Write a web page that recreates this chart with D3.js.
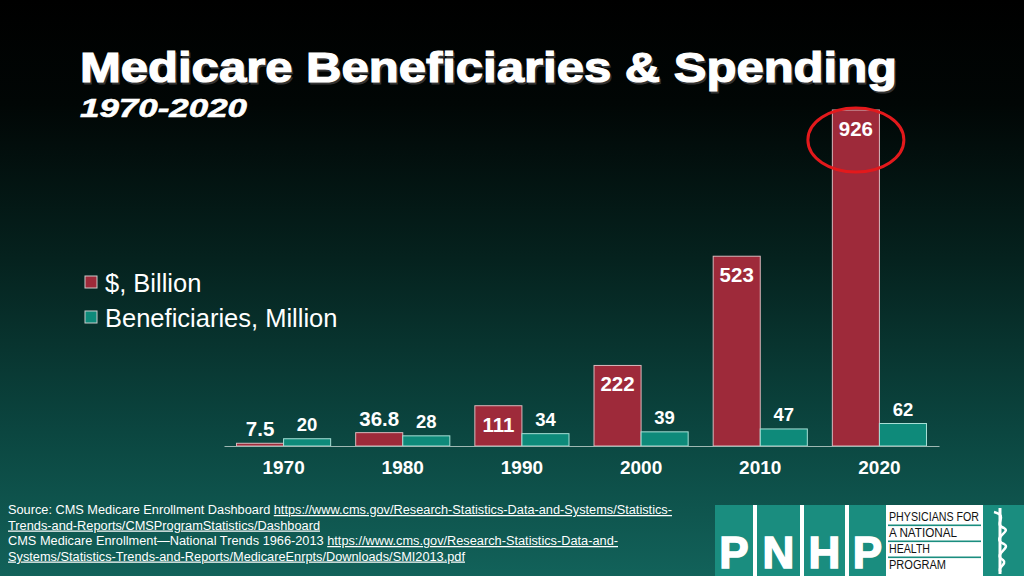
<!DOCTYPE html>
<html><head><meta charset="utf-8">
<script src="https://cdn.jsdelivr.net/npm/d3@7"></script>
<style>html,body{margin:0;padding:0;background:#000;}svg{display:block;}</style>
</head><body>
<script>
const years = ["1970","1980","1990","2000","2010","2020"];
const spending = [7.5, 36.8, 111, 222, 523, 926];
const spendingLabels = ["7.5","36.8","111","222","523","926"];
const beneficiaries = [20, 28, 34, 39, 47, 62];
const seriesNames = ["$, Billion", "Beneficiaries, Million"];

const W = 1024, H = 576;
const svg = d3.select("body").append("svg").attr("width", W).attr("height", H);
const defs = svg.append("defs");
const g = defs.append("linearGradient").attr("id","bg").attr("x1",0).attr("y1",0).attr("x2",0).attr("y2",1);
[[0,"#000000"],[0.18,"#010605"],[0.45,"#05221e"],[0.75,"#0b4640"],[1,"#12625a"]].forEach(([o,c])=>g.append("stop").attr("offset",o).attr("stop-color",c));
svg.append("rect").attr("width",W).attr("height",H).attr("fill","url(#bg)");

const red = "#9e2a3a", teal = "#0e8a7a";

// Title
const title = "Medicare Beneficiaries & Spending";
svg.append("text").attr("x",81.5).attr("y",83.5).text(title)
  .attr("font-family","Liberation Sans, Arial, sans-serif").attr("font-weight",900).attr("font-size",42)
  .attr("textLength",817).attr("lengthAdjust","spacingAndGlyphs").attr("fill","#333").attr("stroke","#333").attr("stroke-width",1.2);
svg.append("text").attr("x",80).attr("y",82).text(title)
  .attr("font-family","Liberation Sans, Arial, sans-serif").attr("font-weight",900).attr("font-size",42)
  .attr("textLength",817).attr("lengthAdjust","spacingAndGlyphs").attr("fill","#fff").attr("stroke","#fff").attr("stroke-width",1.2);
svg.append("text").attr("x",80).attr("y",117).text("1970-2020")
  .attr("font-family","Liberation Sans, Arial, sans-serif").attr("font-weight","bold").attr("font-style","italic").attr("font-size",26)
  .attr("textLength",167).attr("lengthAdjust","spacingAndGlyphs").attr("fill","#fff").attr("stroke","#fff").attr("stroke-width",0.6);

// Scales
const baseY = 446;
const x = d3.scaleBand().domain(years).range([224, 939]).paddingInner(0.21).paddingOuter(0.105);
const xs = d3.scaleBand().domain([0,1]).range([0, x.bandwidth()]).padding(0);
const y = d3.scaleLinear().domain([0, 926]).range([baseY, 110]);

const groups = svg.append("g").selectAll("g").data(years).join("g")
  .attr("transform", d => `translate(${x(d)},0)`);

groups.append("rect")
  .attr("x", xs(0)).attr("width", xs.bandwidth())
  .attr("y", (d,i)=>y(spending[i])).attr("height",(d,i)=>baseY - y(spending[i]))
  .attr("fill", red).attr("stroke","#d9b9bd").attr("stroke-width",1);
groups.append("rect")
  .attr("x", xs(1)).attr("width", xs.bandwidth())
  .attr("y", (d,i)=>y(beneficiaries[i])).attr("height",(d,i)=>baseY - y(beneficiaries[i]))
  .attr("fill", teal).attr("stroke","#a8e0d6").attr("stroke-width",1);

// labels
groups.append("text")
  .attr("x", xs(0)+xs.bandwidth()/2)
  .attr("y", (d,i)=> (baseY - y(spending[i]) > 30) ? y(spending[i]) + 26 : y(spending[i]) - 7)
  .attr("text-anchor","middle").attr("font-family","Liberation Sans, Arial, sans-serif")
  .attr("font-weight","bold").attr("font-size",20.5).attr("fill","#fff")
  .text((d,i)=>spendingLabels[i]);
groups.append("text")
  .attr("x", xs(1)+xs.bandwidth()/2)
  .attr("y", (d,i)=> y(beneficiaries[i]) - 8)
  .attr("text-anchor","middle").attr("font-family","Liberation Sans, Arial, sans-serif")
  .attr("font-weight","bold").attr("font-size",18.5).attr("fill","#fff")
  .text((d,i)=>beneficiaries[i]);

// axis
const axis = svg.append("g").attr("transform",`translate(0,${baseY})`)
  .call(d3.axisBottom(x).tickSize(0).tickPadding(15));
axis.select(".domain").attr("stroke","#9fb8b3").attr("stroke-width",1.2);
axis.selectAll("text").attr("font-family","Liberation Sans, Arial, sans-serif")
  .attr("font-weight","bold").attr("font-size",19).attr("fill","#fff");

// legend
const leg = svg.append("g");
seriesNames.forEach((n,i)=>{
  leg.append("rect").attr("x",85).attr("y",276+i*35).attr("width",12).attr("height",12)
    .attr("fill", i? teal: red).attr("stroke","#ccc").attr("stroke-width",1);
  leg.append("text").attr("x",105).attr("y",292+i*35).text(n)
    .attr("font-family","Liberation Sans, Arial, sans-serif").attr("font-size",25.5).attr("fill","#fff");
});

// circle annotation
svg.append("ellipse").attr("cx", x("2020")+xs.bandwidth()/2).attr("cy",140).attr("rx",48).attr("ry",32)
  .attr("fill","none").attr("stroke","#e3191c").attr("stroke-width",3);

// source
const src = svg.append("g").attr("font-family","Liberation Sans Narrow, Arial Narrow, Liberation Sans, sans-serif").attr("font-size",12.5).attr("fill","#fff");
const lines = [
  [["Source: CMS Medicare Enrollment Dashboard ",false],["https://www.cms.gov/Research-Statistics-Data-and-Systems/Statistics-",true]],
  [["Trends-and-Reports/CMSProgramStatistics/Dashboard",true]],
  [["CMS Medicare Enrollment\u2014National Trends 1966-2013 ",false],["https://www.cms.gov/Research-Statistics-Data-and-",true]],
  [["Systems/Statistics-Trends-and-Reports/MedicareEnrpts/Downloads/SMI2013.pdf",true]]
];
const lineLens = [664, 312, 610, 457];
lines.forEach((ln,i)=>{
  const t = src.append("text").attr("x",8).attr("y",514+i*15.5)
    .attr("textLength", lineLens[i]).attr("lengthAdjust","spacingAndGlyphs");
  ln.forEach(([s,u])=> t.append("tspan").text(s).attr("text-decoration", u?"underline":null));
});

// logo
const logo = svg.append("g");
logo.append("rect").attr("x",715).attr("y",505).attr("width",309).attr("height",71).attr("fill","#1a8d7f");
const letters = [["P",715,753],["N",757,800],["H",804,845],["P",849,886]];
[753,800,845].forEach(xx=>logo.append("rect").attr("x",xx).attr("y",505).attr("width",4).attr("height",71).attr("fill","#fff"));
letters.forEach(([c,a,b])=>logo.append("text").attr("x",(a+b)/2).attr("y",568).attr("text-anchor","middle")
  .attr("font-family","Liberation Sans, Arial, sans-serif").attr("font-weight",900).attr("font-size",44)
  .attr("fill","#fff").attr("stroke","#fff").attr("stroke-width",1.5).text(c));
logo.append("rect").attr("x",886).attr("y",505).attr("width",97).attr("height",71).attr("fill","#fff");
const logoLines = ["PHYSICIANS FOR","A NATIONAL","HEALTH","PROGRAM"];
const logoLens = [90, 68, 41, 57];
logoLines.forEach((s,i)=>{
  logo.append("text").attr("x",889).attr("y",521+i*16).text(s)
    .attr("textLength",logoLens[i]).attr("lengthAdjust","spacingAndGlyphs")
    .attr("font-family","Liberation Sans, Arial, sans-serif").attr("font-size",12).attr("fill","#111");
  if(i<3) logo.append("rect").attr("x",888).attr("y",524.5+i*16).attr("width",93).attr("height",1.6).attr("fill","#1a8d7f");
});
// caduceus approx
logo.append("line").attr("x1",1000).attr("x2",1000).attr("y1",508).attr("y2",574).attr("stroke","#fff").attr("stroke-width",3);
logo.append("path").attr("d","M994,512 C1010,516 992,524 1004,528 C1012,532 990,538 1004,544 C1012,548 992,554 1003,560 C1008,564 996,568 1001,572")
  .attr("fill","none").attr("stroke","#fff").attr("stroke-width",2.5);
</script>
</body></html>
